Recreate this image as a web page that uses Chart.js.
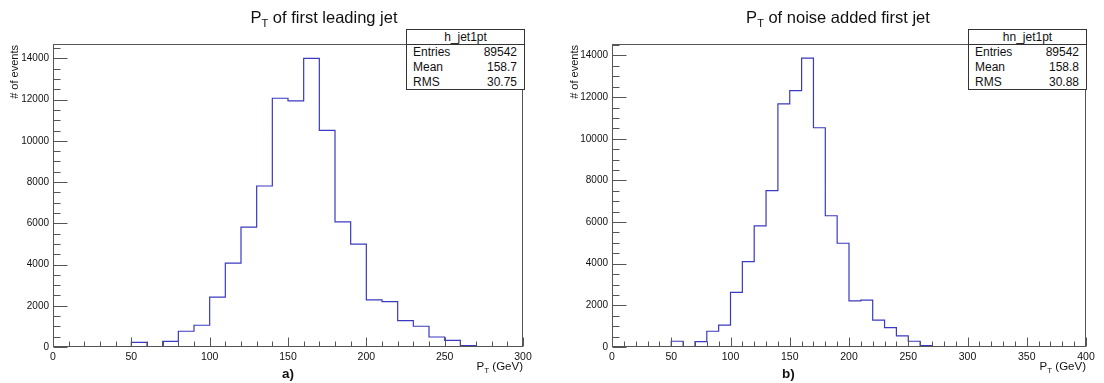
<!DOCTYPE html>
<html>
<head>
<meta charset="utf-8"/>
<title>PT of first jet</title>
<script src="https://cdn.jsdelivr.net/npm/chart.js@4.4.1/dist/chart.umd.min.js"></script>
<style>
body{margin:0;background:#fff;font-family:"Liberation Sans",Arial,sans-serif;color:#111}
.panel{position:absolute;top:0;width:552px;height:383px}
.panel canvas{position:absolute;left:0;top:0}
.title{position:absolute;width:320px;text-align:center;font-size:16.5px;top:8px;white-space:nowrap}
.title sub{font-size:11px;vertical-align:-4px}
.ytitle{position:absolute;width:90px;height:14px;line-height:14px;text-align:right;font-size:11px;transform:rotate(-90deg)}
.xtitle{position:absolute;font-size:11.5px;top:360px;white-space:nowrap}
.xtitle sub{font-size:8px;vertical-align:-3px}
.tag{position:absolute;top:366px;font-weight:bold;font-size:13.5px}
.stats{position:absolute;top:29px;width:119px;height:61px;box-sizing:border-box;border:1px solid #333;background:#fff;font-size:12px}
.stats .hd{height:14px;line-height:14px;text-align:center;border-bottom:1px solid #333}
.stats .row{height:15px;line-height:15px;display:flex;justify-content:space-between;padding:0 7px 0 6px}
</style>
</head>
<body>
<div class="panel" style="left:0">
  <canvas id="chartA" width="552" height="383"></canvas>
  <div class="title" style="left:164px">P<sub>T</sub> of first leading jet</div>
  <div class="ytitle" style="left:-31px;top:83px"># of events</div>
  <div class="xtitle" style="right:29px">P<sub>T</sub> (GeV)</div>
  <div class="tag" style="left:282px">a)</div>
  <div class="stats" id="statsA" style="left:406px"></div>
</div>
<div class="panel" style="left:552px">
  <canvas id="chartB" width="552" height="383"></canvas>
  <div class="title" style="left:126px">P<sub>T</sub> of noise added first jet</div>
  <div class="ytitle" style="left:-23px;top:83px"># of events</div>
  <div class="xtitle" style="right:18px">P<sub>T</sub> (GeV)</div>
  <div class="tag" style="left:230px">b)</div>
  <div class="stats" id="statsB" style="left:416px"></div>
</div>
<script>
// bin contents, 10 GeV bins starting at 0
var countsA = [0, 0, 0, 0, 0, 228, 0, 277, 763, 1055,
               2416, 4068, 5817, 7810, 12067, 11941, 14000, 10512, 6075, 4991,
               2284, 2202, 1278, 1006, 486, 326, 63, 0, 0, 0];
var countsB = [0, 0, 0, 0, 0, 275, 0, 256, 757, 1047,
               2619, 4100, 5821, 7509, 11671, 12313, 13875, 10528, 6303, 4982,
               2218, 2252, 1288, 931, 530, 275, 63, 25, 0, 0,
               0, 0, 0, 0, 0, 0, 0, 0, 0, 0];
var binWidth = 10;
var yTicks = [0, 2000, 4000, 6000, 8000, 10000, 12000, 14000];
var statLabels = ["Entries", "Mean", "RMS"];
var statsA = ["h_jet1pt", "89542", "158.7", "30.75"];
var statsB = ["hn_jet1pt", "89542", "158.8", "30.88"];

Chart.defaults.font.family = "'Liberation Sans', Arial, sans-serif";
Chart.defaults.color = "#111";

function fillStats(id, s) {
  var box = document.getElementById(id);
  var html = '<div class="hd">' + s[0] + '</div>';
  for (var i = 0; i < statLabels.length; i++) {
    html += '<div class="row"><span>' + statLabels[i] + '</span><span>' + s[i + 1] + '</span></div>';
  }
  box.innerHTML = html;
}
fillStats("statsA", statsA);
fillStats("statsB", statsB);

function histPoints(counts) {
  var pts = [];
  for (var i = 0; i < counts.length; i++) pts.push({x: i * binWidth, y: counts[i]});
  pts.push({x: counts.length * binWidth, y: 0});
  return pts;
}

// ROOT style frame with ticks pointing inward
var framePlugin = {
  id: 'frame',
  afterDraw: function(chart) {
    var ctx = chart.ctx, a = chart.chartArea;
    var xs = chart.scales.x, ys = chart.scales.y;
    var l = Math.round(a.left) + 0.5, r = Math.round(a.right) - 0.5;
    var t = Math.round(a.top) + 0.5, b = Math.round(a.bottom) - 0.5;
    ctx.save();
    ctx.strokeStyle = '#555';
    ctx.lineWidth = 1;
    ctx.strokeRect(l, t, r - l, b - t);
    ctx.beginPath();
    for (var v = xs.min; v <= xs.max; v += 10) {
      var px = Math.round(xs.getPixelForValue(v)) + 0.5;
      var len = (v % 50 === 0) ? 9 : 5;
      ctx.moveTo(px, b); ctx.lineTo(px, b - len);
    }
    for (var w = 0; w <= ys.max; w += 500) {
      var py = Math.round(ys.getPixelForValue(w)) + 0.5;
      var ln = (w % 2000 === 0) ? 14 : 7;
      ctx.moveTo(l, py); ctx.lineTo(l + ln, py);
    }
    ctx.stroke();
    ctx.restore();
  }
};

function makeChart(id, counts, xmax, ymax, left, right) {
  return new Chart(document.getElementById(id), {
    type: 'line',
    data: {
      datasets: [{
        data: histPoints(counts),
        stepped: 'before',
        borderColor: '#3a3ac0',
        borderWidth: 1.2,
        pointRadius: 0,
        fill: false
      }]
    },
    options: {
      responsive: false,
      animation: false,
      devicePixelRatio: 1,
      layout: {padding: {top: 44, right: right, left: 0, bottom: 0}},
      plugins: {legend: {display: false}, tooltip: {enabled: false}},
      scales: {
        x: {
          type: 'linear', min: 0, max: xmax,
          grid: {display: false, drawTicks: false},
          border: {display: false},
          ticks: {stepSize: 50, padding: 4, maxRotation: 0, font: {size: 10.5}, color: '#111',
                  callback: function(v) { return String(v); }},
          afterFit: function(s) { s.height = 36; }
        },
        y: {
          min: 0, max: ymax,
          grid: {display: false, drawTicks: false},
          border: {display: false},
          ticks: {padding: 4, font: {size: 10}, color: '#111',
                  callback: function(v) { return String(v); }},
          afterBuildTicks: function(s) {
            s.ticks = yTicks.map(function(v) { return {value: v}; });
          },
          afterFit: function(s) { s.width = left; }
        }
      }
    },
    plugins: [framePlugin]
  });
}

makeChart("chartA", countsA, 300, 14700, 53, 29);
makeChart("chartB", countsB, 400, 14550, 60, 18);
</script>
</body>
</html>
